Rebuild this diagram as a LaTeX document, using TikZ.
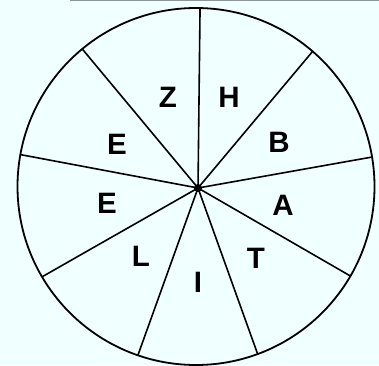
\documentclass[tikz,border=0pt]{standalone}
\usepackage{fontspec}
\setmainfont{Liberation Sans}
\usetikzlibrary{calc}
\definecolor{bg}{RGB}{240,255,255}
\definecolor{scan}{RGB}{140,150,160}
\begin{document}
\begin{tikzpicture}[x=1pt,y=1pt,
  rim/.style={line width=1.8pt,draw=black},
  spoke/.style={line width=1.6pt,draw=black},
  letter/.style={font=\fontsize{29.5}{30}\selectfont\bfseries,inner sep=0pt}]
\fill[bg] (0,0) rectangle (379,365);
\useasboundingbox (0,0) rectangle (379,365);
\draw[scan,line width=1.5pt] (70,364.5) -- (379,364.5);
\coordinate (c) at (196,178.5);
\draw[rim] (c) circle (178.5);
\node[circle,fill=black,inner sep=0pt,minimum size=8pt] (hub) at (198,177) {};
\foreach \a [count=\i] in {88.7,49.2,9.5,-30.1,-69.8,-109,-149.6,169.7,129.6}{
  \coordinate (p\i) at ($(c)+(\a:178.5)$);
  \draw[spoke] (hub.center) -- (p\i);
}
\node[letter] (lz) at (168,267.5) {Z};
\node[letter] (lh) at (229,267.5) {H};
\node[letter] (lb) at (279,223) {B};
\node[letter] (la) at (283,160) {A};
\node[letter] (lt) at (256,107) {T};
\node[letter] (li) at (198,83) {I};
\node[letter] (ll) at (141,109) {L};
\node[letter] (le1) at (107,162) {E};
\node[letter] (le2) at (117,221) {E};
\end{tikzpicture}
\end{document}
